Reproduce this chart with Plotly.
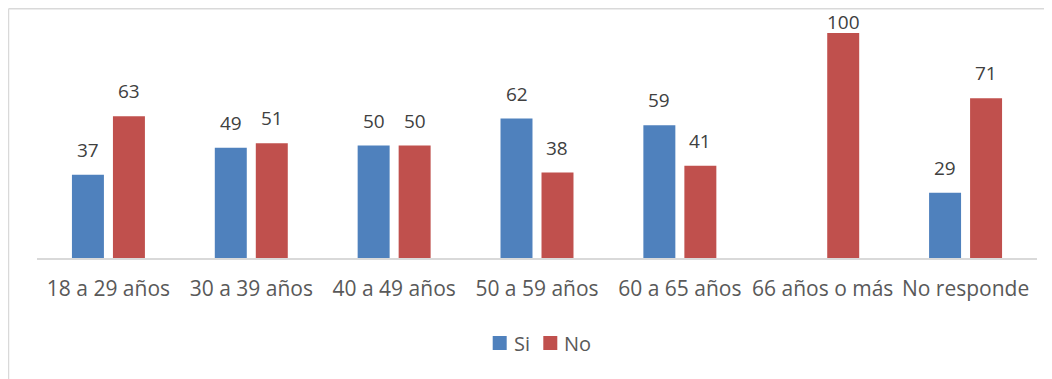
import plotly.graph_objects as go

categories = ["18 a 29 años", "30 a 39 años", "40 a 49 años", "50 a 59 años",
              "60 a 65 años", "66 años o más", "No responde"]
series_names = ["Si", "No"]
si_values = [37, 49, 50, 62, 59, None, 29]
no_values = [63, 51, 50, 38, 41, 100, 71]

SI_COLOR = "#4f81bd"
NO_COLOR = "#c0504d"
FONT = "Open Sans"
PX_PER_UNIT = 2.25  # plot height 225 px over range 0-100

fig = go.Figure()
fig.add_trace(go.Bar(name=series_names[0], x=categories, y=si_values,
                     marker_color=SI_COLOR, marker_line_width=0))
fig.add_trace(go.Bar(name=series_names[1], x=categories, y=no_values,
                     marker_color=NO_COLOR, marker_line_width=0))

annotations = []
for vals, shift in ((si_values, -20.4), (no_values, 20.4)):
    for c, v in zip(categories, vals):
        if v is None:
            continue
        # labels near the top of the chart are squeezed down (as in the reference)
        ys = min(25, 11 + (100 - v) * PX_PER_UNIT)
        annotations.append(dict(x=c, y=v, xref="x", yref="y", text=str(v),
                                showarrow=False, xshift=shift, yshift=ys,
                                yanchor="middle",
                                font=dict(family=FONT, size=19, color="#404040")))

# manual legend (compact spacing like the reference)
legend_items = [(series_names[0], SI_COLOR, 0.4557, 0.475),
                (series_names[1], NO_COLOR, 0.5063, 0.5245)]
shapes = [
    dict(type="line", xref="paper", yref="paper", x0=-0.0285, x1=1.03,
         y0=1.108, y1=1.108, line=dict(color="#d9d9d9", width=1.5)),
    dict(type="line", xref="paper", yref="paper", x0=-0.0285, x1=-0.0285,
         y0=1.108, y1=-0.6, line=dict(color="#d9d9d9", width=1.5)),
]
for name, col, sx, tx in legend_items:
    shapes.append(dict(type="rect", xref="paper", yref="paper", x0=sx, x1=sx + 0.014,
                       y0=-0.4089, y1=-0.3467, fillcolor=col, line=dict(width=0)))
    annotations.append(dict(x=tx, y=-0.378, xref="paper", yref="paper", text=name,
                            showarrow=False, xanchor="left", yanchor="middle",
                            font=dict(family=FONT, size=20, color="#595959")))

fig.update_layout(
    width=1044, height=371,
    margin=dict(l=29, r=15, t=25, b=121),
    paper_bgcolor="white", plot_bgcolor="white",
    barmode="group", bargap=0.426, bargroupgap=0.22,
    font=dict(family=FONT, size=20, color="#595959"),
    showlegend=False,
    xaxis=dict(showline=True, linecolor="#d9d9d9", linewidth=1.5, ticks="",
               showgrid=False, tickfont=dict(family=FONT, size=21, color="#595959"),
               ticklabelstandoff=11),
    yaxis=dict(range=[0, 100], visible=False, showgrid=False, zeroline=False),
    annotations=annotations,
    shapes=shapes,
)

fig.write_html("out.html")
